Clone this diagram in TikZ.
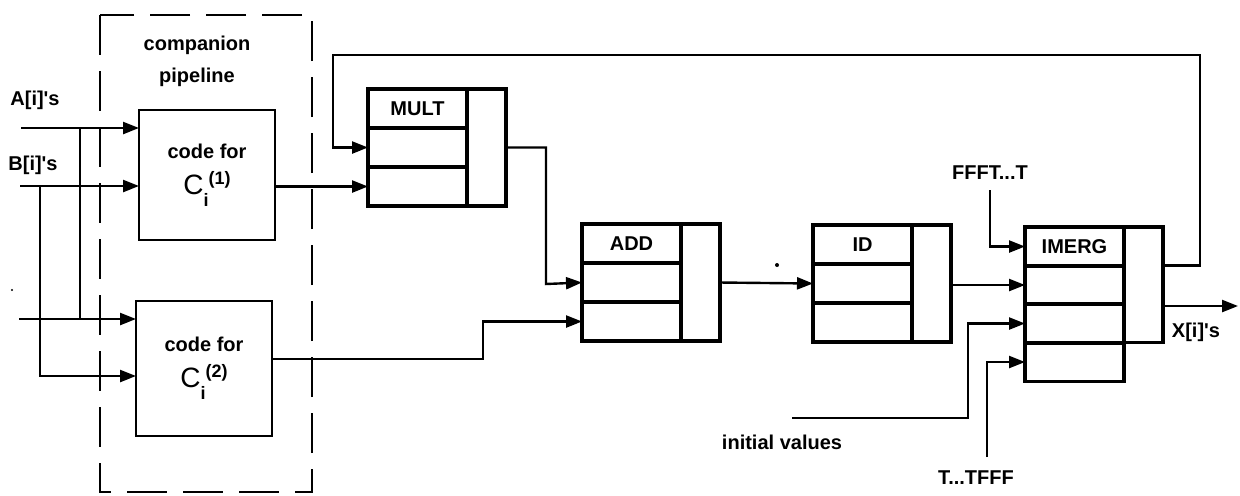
\documentclass[tikz,border=0pt]{standalone}
\usepackage{fontspec}
\setmainfont{Liberation Sans}
\usetikzlibrary{arrows.meta}
\begin{document}
\begin{tikzpicture}[x=0.5pt,y=-0.5pt,
  lcell/.style={draw, line width=1.8pt, anchor=north west, minimum width=49.5pt, minimum height=19.5pt, inner sep=0pt, outer sep=0pt, font=\bfseries},
  rcol/.style={draw, line width=1.8pt, anchor=north west, minimum width=19.5pt, minimum height=58.5pt, inner sep=0pt, outer sep=0pt},
  codebox/.style={draw, line width=1.4pt, minimum width=68pt, inner sep=0pt, outer sep=0pt, align=center, font=\bfseries},
  conn/.style={line width=1.2pt, -{Triangle[length=8pt,width=6pt]}},
  wire/.style={line width=1.2pt},
  lbl/.style={font=\bfseries, inner sep=0pt},
  pipe/.style={draw, line width=1.1pt, dash pattern=on 20pt off 8pt}
]
\useasboundingbox (0,0) rectangle (1240,495);

% companion pipeline dashed box
\draw[pipe] (100,15) rectangle (312,492);
\node[lbl] (comp) at (197,45) {companion};
\node[lbl] (pipel) at (197,77) {pipeline};

% code boxes
\node[codebox, minimum height=65pt] (c1) at (207,175)
  {code for\\[6pt]{\fontsize{14}{14}\selectfont\mdseries C}\raisebox{-6pt}{\small i}\raisebox{5pt}{\small(1)}};
\node[codebox, minimum height=67.5pt] (c2) at (204,368.5)
  {code for\\[6pt]{\fontsize{14}{14}\selectfont\mdseries C}\raisebox{-6pt}{\small i}\raisebox{5pt}{\small(2)}};

% MULT
\node[lcell] (mult1) at (368,89) {MULT};
\node[lcell] (mult2) at (368,128) {};
\node[lcell] (mult3) at (368,167) {};
\node[rcol] (multr) at (467,89) {};

% ADD
\node[lcell] (add1) at (582,224) {ADD};
\node[lcell] (add2) at (582,263) {};
\node[lcell] (add3) at (582,302) {};
\node[rcol] (addr) at (681,224) {};

% ID
\node[lcell] (id1) at (813,225) {ID};
\node[lcell] (id2) at (813,264) {};
\node[lcell] (id3) at (813,303) {};
\node[rcol] (idr) at (912,225) {};

% IMERG
\node[lcell] (im1) at (1025,227) {IMERG};
\node[lcell] (im2) at (1025,265.5) {};
\node[lcell] (im3) at (1025,304) {};
\node[lcell] (im4) at (1025,342.5) {};
\node[rcol, minimum height=57.75pt] (imr) at (1124,227) {};

% labels
\node[lbl] (alab) at (35,100) {A[i]\textquotesingle s};
\node[lbl] (blab) at (33,165) {B[i]\textquotesingle s};
\node[lbl] (flab) at (990,173) {FFFT...T};
\node[lbl] (ivlab) at (782,442) {initial values};
\node[lbl] (tlab) at (976,478) {T...TFFF};
\node[lbl] (xlab) at (1196,332) {X[i]\textquotesingle s};

% coordinates for free ends and bends
\coordinate (ain) at (21,128);
\coordinate (bin) at (20,186);
\coordinate (cin) at (19,319);
\coordinate (ja) at (80,128);
\coordinate (jb) at (40,186);
\coordinate (jbb) at (40,376);
\coordinate (c2o) at (483,359);
\coordinate (mo) at (546,284);
\coordinate (fbR) at (1200,55);
\coordinate (fbL) at (333,55);
\coordinate (ffin) at (990,190);
\coordinate (iv) at (792,418);
\coordinate (ivc) at (968,418);
\coordinate (tt) at (987,457);
\coordinate (xout) at (1238,306);

% inputs of code boxes
\draw[conn] (ain) -- (ain -| c1.west);
\draw[conn] (bin) -- (bin -| c1.west);
\draw[conn] (cin) -- (cin -| c2.west);
\draw[wire] (ja) -- (ja |- cin);
\draw[conn] (jb) -- (jbb) -- (jbb -| c2.west);

% code box outputs
\draw[conn] (c1.east |- mult3.west) -- (mult3.west);
\draw[conn] (c2.east |- c2o) -- (c2o) |- (add3.west);

% feedback
\draw[conn] (imr.east |- im2.north) -| (fbR) -- (fbL) |- (mult2.west);

% MULT -> ADD -> ID -> IMERG
\draw[conn] (multr.east |- mult2.west) -| (mo) -- (add2.west);
\draw[conn] (addr.east |- add2.west) -- (id2.west);
\draw[conn] (idr.east |- im2.west) -- (im2.west);

% IMERG control inputs
\draw[conn] (ffin) |- (im1.west);
\draw[conn] (iv) -- (ivc) |- (im3.west);
\draw[conn] (tt) |- (im4.west);

% output
\draw[conn] (imr.east |- xout) -- (xout);

% stray specks of the original
\fill (777,265) circle (2);
\fill (12,290) circle (1.2);
\end{tikzpicture}
\end{document}
